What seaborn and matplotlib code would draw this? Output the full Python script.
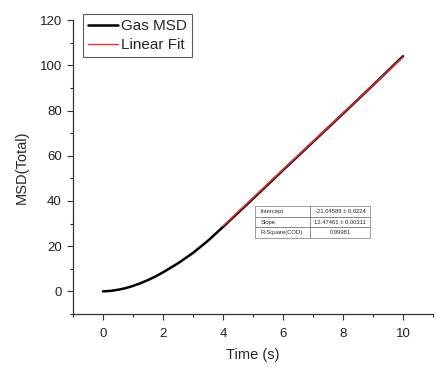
import matplotlib
matplotlib.use("Agg")
import matplotlib.pyplot as plt
import seaborn as sns
import pandas as pd
from matplotlib.ticker import MultipleLocator

# data
time_s = [0.0, 0.25, 0.5, 0.75, 1.0, 1.25, 1.5, 1.75, 2.0, 2.5, 3.0, 3.5, 4.0,
          5.0, 6.0, 7.0, 8.0, 9.0, 10.0]
msd = [0.0, 0.2, 0.7, 1.4, 2.4, 3.6, 5.0, 6.6, 8.4, 12.4, 17.0, 22.4, 28.5,
       41.0, 53.6, 66.1, 78.6, 91.2, 104.0]
fit_t = [4.0, 10.0]
fit_y = [28.85, 103.70]
table_rows = [["Intercept", "-21.04589 \u00b1 0.0224"],
              ["Slope", "12.47461 \u00b1 0.00311"],
              ["R-Square(COD)", "0.99981"]]

sns.set_style("ticks")
plt.rcParams['font.family'] = ['Liberation Sans', 'DejaVu Sans']

fig = plt.figure(figsize=(4.45, 3.72), dpi=100)
ax = fig.add_axes([0.164, 0.156, 0.809, 0.79])

df = pd.DataFrame({"t": time_s, "msd": msd})
fdf = pd.DataFrame({"t": fit_t, "y": fit_y})
sns.lineplot(data=df, x="t", y="msd", ax=ax, color="black", lw=1.8, label="Gas MSD")
sns.lineplot(data=fdf, x="t", y="y", ax=ax, color="#ff2a2a", lw=1.0, label="Linear Fit")

ax.set_xlim(-1, 11)
ax.set_ylim(-10, 120)
ax.xaxis.set_major_locator(MultipleLocator(2))
ax.xaxis.set_minor_locator(MultipleLocator(1))
ax.yaxis.set_major_locator(MultipleLocator(20))
ax.yaxis.set_minor_locator(MultipleLocator(10))
ax.set_yticks([0, 20, 40, 60, 80, 100, 120])
ax.tick_params(which="major", direction="out", length=4, width=0.8, labelsize=9.5,
               colors="#333333", pad=4)
ax.tick_params(axis="x", which="major", pad=6)
ax.tick_params(which="minor", direction="out", length=2.5, width=0.8)
for lab in ax.get_xticklabels() + ax.get_yticklabels():
    lab.set_color("#222222")
sns.despine(ax=ax)
for s in ["left", "bottom"]:
    ax.spines[s].set_color("#333333")
    ax.spines[s].set_linewidth(0.9)
ax.set_xlabel("Time (s)", fontsize=10.5, labelpad=6)
ax.set_ylabel("MSD(Total)", fontsize=10.5, labelpad=8)

leg = ax.legend(loc="upper left", bbox_to_anchor=(0.02, 1.03), fontsize=11,
                frameon=True, fancybox=False, edgecolor="#333333",
                handlelength=2.0, handletextpad=0.2, borderpad=0.3, labelspacing=0.35,
                borderaxespad=0.2)
leg.get_frame().set_linewidth(0.8)

tax = fig.add_axes([0.573, 0.36, 0.258, 0.086])
tax.axis("off")
tbl = tax.table(cellText=table_rows, colWidths=[0.48, 0.52], cellLoc="left",
                bbox=[0, 0, 1, 1])
tbl.auto_set_font_size(False)
tbl.set_fontsize(4.2)
for (r, c), cell in tbl.get_celld().items():
    cell.set_linewidth(0.4)
    cell.set_edgecolor("#555555")
    if c == 1:
        cell._loc = "center"
        cell.get_text().set_ha("center")
        cell.get_text().set_x(0.5)

fig.savefig("out.png", dpi=100)
